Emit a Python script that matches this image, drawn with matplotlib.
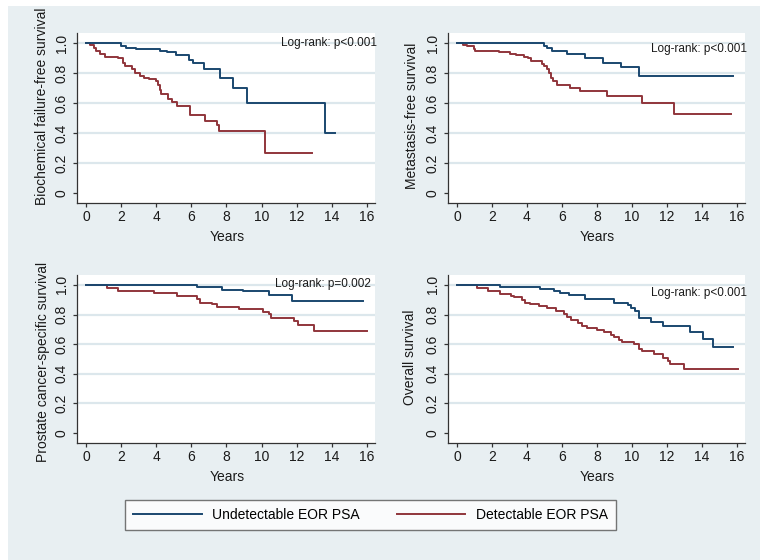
import matplotlib
matplotlib.use('agg')
import matplotlib.pyplot as plt
from matplotlib.patches import Rectangle
from matplotlib.lines import Line2D

plt.rcParams['font.family'] = ['Liberation Sans', 'DejaVu Sans']

NAVY = '#1a476f'
MAROON = '#90353b'
BG = '#e8eff2'
GRID = '#dce7ec'

# Kaplan-Meier step points (time, survival)
bcr_undet_t = [0, 1.98, 2.3, 2.85, 4.2, 4.6, 5.1, 5.85, 6.1, 6.7, 7.65, 8.35, 9.15, 13.6, 14.2]
bcr_undet_s = [1.0, 0.98, 0.97, 0.96, 0.95, 0.94, 0.92, 0.89, 0.87, 0.83, 0.77, 0.70, 0.60, 0.40, 0.40]
bcr_det_t = [0, 0.23, 0.45, 0.57, 0.8, 1.06, 1.85, 2.1, 2.2, 2.65, 2.8, 3.1, 3.3, 3.6, 4.0, 4.1,
             4.2, 4.3, 4.7, 4.9, 5.2, 5.9, 6.8, 7.45, 7.55, 10.2, 12.9]
bcr_det_s = [1.0, 0.99, 0.97, 0.95, 0.93, 0.91, 0.90, 0.87, 0.85, 0.83, 0.80, 0.78, 0.77, 0.76, 0.75, 0.72,
             0.69, 0.66, 0.63, 0.61, 0.58, 0.52, 0.48, 0.45, 0.41, 0.265, 0.265]

mfs_undet_t = [0, 4.96, 5.15, 5.45, 6.3, 7.3, 8.36, 9.4, 10.4, 15.75]
mfs_undet_s = [1.0, 0.98, 0.97, 0.95, 0.925, 0.90, 0.87, 0.84, 0.78, 0.78]
mfs_det_t = [0, 0.35, 0.6, 0.95, 1.05, 2.4, 3.05, 3.35, 3.85, 4.05, 4.25, 4.85, 5.0, 5.15, 5.25,
             5.35, 5.5, 5.7, 6.45, 7.05, 8.6, 10.6, 12.4, 15.65]
mfs_det_s = [1.0, 0.99, 0.98, 0.96, 0.95, 0.94, 0.93, 0.92, 0.91, 0.90, 0.88, 0.86, 0.85, 0.83, 0.80,
             0.77, 0.75, 0.72, 0.70, 0.68, 0.65, 0.60, 0.525, 0.525]

pcss_undet_t = [0, 6.35, 7.75, 8.97, 10.45, 11.73, 15.76]
pcss_undet_s = [1.0, 0.985, 0.967, 0.956, 0.93, 0.892, 0.892]
pcss_det_t = [0, 1.18, 1.85, 3.85, 5.2, 6.3, 6.5, 7.15, 7.45, 8.7, 10.1, 10.4, 10.55, 11.85, 12.05, 13.0, 16.0]
pcss_det_s = [1.0, 0.978, 0.958, 0.945, 0.926, 0.907, 0.876, 0.868, 0.854, 0.839, 0.819, 0.801, 0.777,
              0.757, 0.731, 0.687, 0.687]

os_undet_t = [0, 2.45, 4.75, 5.55, 5.9, 6.4, 7.3, 8.97, 9.75, 9.95, 10.2, 10.4, 11.1, 11.75, 13.3,
              14.05, 14.65, 15.75]
os_undet_s = [1.0, 0.987, 0.971, 0.96, 0.945, 0.934, 0.907, 0.879, 0.865, 0.845, 0.823, 0.779, 0.75,
              0.724, 0.684, 0.636, 0.58, 0.58]
os_det_t = [0, 1.15, 1.8, 2.45, 3.1, 3.25, 3.7, 3.9, 4.2, 4.7, 5.15, 5.65, 6.1, 6.3, 6.5, 6.9, 7.15,
            7.45, 8.0, 8.4, 8.8, 9.0, 9.25, 9.45, 10.1, 10.4, 10.6, 11.25, 11.75, 12.05, 12.2, 13.0, 16.05]
os_det_s = [1.0, 0.978, 0.956, 0.938, 0.927, 0.918, 0.90, 0.879, 0.868, 0.861, 0.841, 0.823, 0.806,
            0.786, 0.762, 0.746, 0.724, 0.706, 0.695, 0.68, 0.664, 0.647, 0.629, 0.614, 0.598, 0.57,
            0.554, 0.536, 0.508, 0.488, 0.466, 0.433, 0.433]

y_titles = ['Biochemical failure-free survival', 'Metastasis-free survival',
            'Prostate cancer-specific survival', 'Overall survival']
p_texts = ['Log-rank: p<0.001', 'Log-rank: p<0.001', 'Log-rank: p=0.002', 'Log-rank: p<0.001']
legend_labels = ['Undetectable EOR PSA', 'Detectable EOR PSA']

panels = [
    (bcr_undet_t, bcr_undet_s, bcr_det_t, bcr_det_s),
    (mfs_undet_t, mfs_undet_s, mfs_det_t, mfs_det_s),
    (pcss_undet_t, pcss_undet_s, pcss_det_t, pcss_det_s),
    (os_undet_t, os_undet_s, os_det_t, os_det_s),
]

W, H = 760, 560
fig = plt.figure(figsize=(7.6, 5.6), dpi=100, facecolor='white')
fig.patches.append(Rectangle((8 / W, 0), 1, 1 - 6 / H, transform=fig.transFigure,
                             facecolor=BG, edgecolor='none', zorder=-10))

# axes boxes in pixels: left, top, right, bottom
boxes = [(77, 33, 375, 203), (448, 33, 745, 203), (77, 275, 375, 443), (448, 275, 745, 443)]
ylab_pos = [(42, 0.57), (412, 0.51), (43.5, 0.48), (410.5, 0.51)]
ptext_pos = [(16.57, 1.0), (16.57, 0.96), (16.23, 1.007), (16.57, 0.947)]

for i, (ut, us, dt, ds) in enumerate(panels):
    l, t, r, b = boxes[i]
    ax = fig.add_axes([l / W, 1 - b / H, (r - l) / W, (b - t) / H])
    ax.set_facecolor('white')
    ax.set_xlim(-0.51, 16.46)
    ax.set_ylim(-0.067, 1.067)
    for y in [0.2, 0.4, 0.6, 0.8, 1.0]:
        ax.axhline(y, color=GRID, lw=1.6, zorder=0)
    ax.step(ut, us, where='post', color=NAVY, lw=1.4, zorder=3)
    ax.step(dt, ds, where='post', color=MAROON, lw=1.4, zorder=2)

    ax.set_xticks(range(0, 17, 2))
    ax.set_yticks([0, 0.2, 0.4, 0.6, 0.8, 1.0])
    ax.set_yticklabels(['0', '0.2', '0.4', '0.6', '0.8', '1.0'], rotation=90, va='center')
    ax.tick_params(direction='out', length=3, width=0.9, color='#333333', labelsize=10,
                   labelcolor='#1a1a1a')
    ax.tick_params(axis='x', pad=2)
    ax.tick_params(axis='y', pad=3)
    for side in ['top', 'right']:
        ax.spines[side].set_visible(False)
    for side in ['left', 'bottom']:
        ax.spines[side].set_color('#333333')
        ax.spines[side].set_linewidth(0.9)

    ax.set_xlabel('Years', fontsize=10, color='#1a1a1a')
    ax.xaxis.set_label_coords(0.503, -34 / (b - t))
    ax.xaxis.label.set_va('center')
    ax.set_ylabel(y_titles[i], fontsize=10, color='#1a1a1a')
    lx, ly = ylab_pos[i]
    ax.yaxis.set_label_coords((lx - l) / (r - l), ly)
    ax.yaxis.label.set_va('center')

    px, py = ptext_pos[i]
    ax.text(px, py, p_texts[i], ha='right', va='center', fontsize=8.5, color='#1a1a1a', clip_on=False)

handles = [Line2D([], [], color=NAVY, lw=1.4), Line2D([], [], color=MAROON, lw=1.4)]
leg = fig.legend(handles, legend_labels, loc='center', ncol=2,
                 bbox_to_anchor=(370.5 / W, 1 - 515 / H), fontsize=10,
                 handlelength=4.9, handletextpad=0.75, columnspacing=2.7,
                 borderpad=0.6, frameon=True, fancybox=False)
leg.get_frame().set_edgecolor('#555555')
leg.get_frame().set_linewidth(1.0)
leg.get_frame().set_facecolor('white')

fig.savefig('out.png', dpi=100, facecolor=fig.get_facecolor())
